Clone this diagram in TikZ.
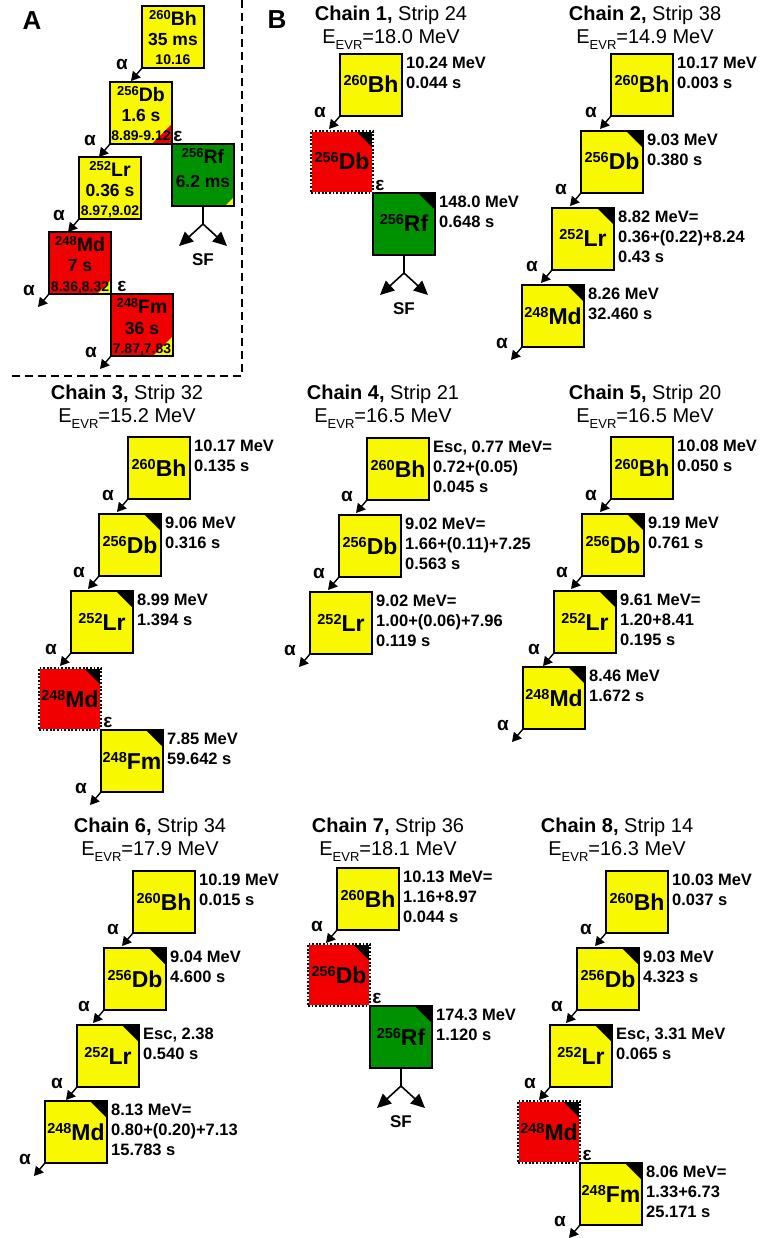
\documentclass[tikz,border=0pt]{standalone}
\usepackage{fontspec}
\setmainfont{Liberation Sans}
\usetikzlibrary{arrows.meta}

\definecolor{nucyellow}{RGB}{248,248,0}
\definecolor{nucred}{RGB}{240,0,0}
\definecolor{nucgreen}{RGB}{0,145,0}

% isotope symbol with mass number as a raised prefix
\newcommand\iso[2]{{\fontsize{14.5}{14}\selectfont\raisebox{7pt}{#1}}{\fontsize{23}{22}\selectfont #2}}
\newcommand\isoA[2]{{\fontsize{13}{13}\selectfont\raisebox{6pt}{#1}}{\fontsize{19.5}{19}\selectfont #2}}

\tikzset{
  nuc/.style={minimum width=62pt, minimum height=62pt, inner sep=0pt, outer sep=0pt,
              draw=black, line width=1.3pt},
  yel/.style={nuc, fill=nucyellow},
  grn/.style={nuc, fill=nucgreen},
  rd/.style={nuc, fill=nucred},
  dotbox/.style={nuc, fill=nucred, draw=white, line width=1.8pt,
                 postaction={draw=black, line width=1.8pt, dash pattern=on 1.8pt off 1.8pt}},
  corner/.style={path picture={\fill[black] (path picture bounding box.north east)
                 -- ++(-17,0) -- ++(17,17) -- cycle;}},
  cornerA/.style n args={2}{path picture={\fill[#1] (path picture bounding box.south east)
                 -- ++(-#2,0) -- ++(#2,-#2) -- cycle;}},
  side/.style={anchor=north west, inner sep=0pt, align=left,
               font=\bfseries\fontsize{16.5}{19.8}\selectfont},
  lab/.style={inner sep=0pt, font=\bfseries\fontsize{19}{19}\selectfont},
  ttl/.style={anchor=base, inner sep=0pt, font=\fontsize{20}{20}\selectfont},
  aarrow/.style={line width=1.4pt, -{Triangle[length=9pt,width=10pt]}},
  sfarrow/.style={line width=1.6pt, -{Triangle[length=14pt,width=13pt]}},
  sepline/.style={line width=1.5pt, dash pattern=on 8pt off 5pt},
}

% nucleus box of a single chain: name, style, top-left x, top-left y, mass, element
\newcommand\nucB[6]{%
  \node[#2] (#1) at (#3+31,#4+31) {};
  \node[anchor=base, inner sep=0pt, yshift=-8pt, font=\bfseries] (#1-l) at (#1.center) {\iso{#5}{#6}};
}
% nucleus box of the summary scheme: name, style, x, y, mass, element, half-life, energies
\newcommand\nucA[8]{%
  \node[#2] (#1) at (#3+31,#4+31) {};
  \node[anchor=base, inner sep=0pt, yshift=11.2pt, font=\bfseries] (#1-l) at (#1.center) {\isoA{#5}{#6}};
  \node[anchor=base, inner sep=0pt, yshift=-9pt, font=\bfseries\fontsize{17.5}{17}\selectfont] (#1-h) at (#1.center) {#7};
  \node[anchor=base, inner sep=0pt, yshift=-28pt, font=\bfseries\fontsize{14}{14}\selectfont] (#1-q) at (#1.center) {#8};
}
\newcommand\sidetext[2]{\node[side] (#1-t) at ([xshift=4pt,yshift=-3pt]#1.north east) {#2};}
\newcommand\adecay[1]{%
  \coordinate (#1-e) at ([xshift=-11pt,yshift=-13pt]#1.south west);
  \draw[aarrow] (#1.south west) -- (#1-e);
  \node[lab] (#1-al) at ([xshift=-20pt,yshift=4pt]#1.south west) {α};
}
\newcommand\edecay[2][7pt]{\node[lab] (#2-el) at ([xshift=#1,yshift=8pt]#2.south east) {ε};}
\newcommand\sfdecay[1]{%
  \coordinate (#1-s) at ([yshift=-18pt]#1.south);
  \coordinate (#1-s1) at ([xshift=-24pt,yshift=-40pt]#1.south);
  \coordinate (#1-s2) at ([xshift=24pt,yshift=-40pt]#1.south);
  \draw[line width=1.6pt] (#1.south) -- (#1-s);
  \draw[sfarrow] (#1-s) -- (#1-s1);
  \draw[sfarrow] (#1-s) -- (#1-s2);
  \node[inner sep=0pt, font=\bfseries\fontsize{17}{17}\selectfont] (#1-sf) at ([yshift=-54pt]#1.south) {SF};
}
\newcommand\chaintitle[6]{%
  \node[ttl] (#1-t1) at (#2,#3) {\textbf{Chain #4,} Strip #5};
  \node[ttl] (#1-t2) at (#2,#3+23) {E{\fontsize{13}{13}\selectfont\raisebox{-6pt}{EVR}}=#6 MeV};
}

\begin{document}
\begin{tikzpicture}[x=1pt, y=-1pt]
\useasboundingbox (0,0) rectangle (760,1238);

% panel separator
\coordinate (sepTop) at (242,0);
\coordinate (sepCorner) at (242,376);
\coordinate (sepLeft) at (10,376);
\draw[sepline] (sepTop) -- (sepCorner) -- (sepLeft);

\node[font=\bfseries\fontsize{26}{26}\selectfont, inner sep=0pt] (panelA) at (32,21) {A};
\node[font=\bfseries\fontsize{26}{26}\selectfont, inner sep=0pt] (panelB) at (277,20) {B};

% ---------- summary decay scheme ----------
\nucA{abh}{yel}{142}{6}{260}{Bh}{35 ms}{10.16}
\nucA{adb}{yel,cornerA={nucred}{20}}{110}{82}{256}{Db}{1.6 s}{8.89-9.12}
\nucA{alr}{yel}{79}{157}{252}{Lr}{0.36 s}{8.97,9.02}
\nucA{amd}{rd,cornerA={nucyellow}{14}}{49}{232}{248}{Md}{7 s}{8.36,8.32}
\nucA{afm}{rd,cornerA={nucyellow}{20}}{111}{294}{248}{Fm}{36 s}{7.87,7.83}
\node[grn,cornerA={nucyellow}{9}] (arf) at (172+31,144+31) {};
\node[anchor=base, inner sep=0pt, yshift=11.2pt, font=\bfseries] (arf-l) at (arf.center) {\isoA{256}{Rf}};
\node[anchor=base, inner sep=0pt, yshift=-13pt, font=\bfseries\fontsize{17.5}{17}\selectfont] (arf-h) at (arf.center) {6.2 ms};
\adecay{abh}
\adecay{adb}
\adecay{alr}
\adecay{amd}
\adecay{afm}
\edecay[6pt]{adb}
\edecay[11pt]{amd}
\sfdecay{arf}

% ---------- chain 1 ----------
\chaintitle{c1}{391}{21}{1}{24}{18.0}
\nucB{c1bh}{yel}{340}{54}{260}{Bh}
\nucB{c1db}{dotbox,corner}{311}{131}{256}{Db}
\nucB{c1rf}{grn,corner}{373}{193}{256}{Rf}
\sidetext{c1bh}{10.24 MeV\\0.044 s}
\sidetext{c1rf}{148.0 MeV\\0.648 s}
\adecay{c1bh}
\edecay{c1db}
\sfdecay{c1rf}

% ---------- chain 2 ----------
\chaintitle{c2}{645}{21}{2}{38}{14.9}
\nucB{c2bh}{yel}{611}{54}{260}{Bh}
\nucB{c2db}{yel,corner}{581}{131}{256}{Db}
\nucB{c2lr}{yel,corner}{552}{208}{252}{Lr}
\nucB{c2md}{yel,corner}{522}{285}{248}{Md}
\sidetext{c2bh}{10.17 MeV\\0.003 s}
\sidetext{c2db}{9.03 MeV\\0.380 s}
\sidetext{c2lr}{8.82 MeV=\\0.36+(0.22)+8.24\\0.43 s}
\sidetext{c2md}{8.26 MeV\\32.460 s}
\adecay{c2bh}
\adecay{c2db}
\adecay{c2lr}
\adecay{c2md}

% ---------- chain 3 ----------
\chaintitle{c3}{127}{399}{3}{32}{15.2}
\nucB{c3bh}{yel}{128}{437}{260}{Bh}
\nucB{c3db}{yel,corner}{99}{514}{256}{Db}
\nucB{c3lr}{yel,corner}{71}{591}{252}{Lr}
\nucB{c3md}{dotbox,corner}{39}{668}{248}{Md}
\nucB{c3fm}{yel,corner}{101}{730}{248}{Fm}
\sidetext{c3bh}{10.17 MeV\\0.135 s}
\sidetext{c3db}{9.06 MeV\\0.316 s}
\sidetext{c3lr}{8.99 MeV\\1.394 s}
\sidetext{c3fm}{7.85 MeV\\59.642 s}
\adecay{c3bh}
\adecay{c3db}
\adecay{c3lr}
\edecay{c3md}
\adecay{c3fm}

% ---------- chain 4 ----------
\chaintitle{c4}{383}{399}{4}{21}{16.5}
\nucB{c4bh}{yel}{367}{438}{260}{Bh}
\nucB{c4db}{yel}{339}{515}{256}{Db}
\nucB{c4lr}{yel}{310}{592}{252}{Lr}
\sidetext{c4bh}{Esc, 0.77 MeV=\\0.72+(0.05)\\0.045 s}
\sidetext{c4db}{9.02 MeV=\\1.66+(0.11)+7.25\\0.563 s}
\sidetext{c4lr}{9.02 MeV=\\1.00+(0.06)+7.96\\0.119 s}
\adecay{c4bh}
\adecay{c4db}
\adecay{c4lr}

% ---------- chain 5 ----------
\chaintitle{c5}{645}{399}{5}{20}{16.5}
\nucB{c5bh}{yel}{611}{437}{260}{Bh}
\nucB{c5db}{yel,corner}{582}{514}{256}{Db}
\nucB{c5lr}{yel,corner}{554}{591}{252}{Lr}
\nucB{c5md}{yel,corner}{523}{667}{248}{Md}
\sidetext{c5bh}{10.08 MeV\\0.050 s}
\sidetext{c5db}{9.19 MeV\\0.761 s}
\sidetext{c5lr}{9.61 MeV=\\1.20+8.41\\0.195 s}
\sidetext{c5md}{8.46 MeV\\1.672 s}
\adecay{c5bh}
\adecay{c5db}
\adecay{c5lr}
\adecay{c5md}

% ---------- chain 6 ----------
\chaintitle{c6}{150}{832}{6}{34}{17.9}
\nucB{c6bh}{yel}{133}{871}{260}{Bh}
\nucB{c6db}{yel,corner}{104}{948}{256}{Db}
\nucB{c6lr}{yel,corner}{77}{1025}{252}{Lr}
\nucB{c6md}{yel,corner}{45}{1101}{248}{Md}
\sidetext{c6bh}{10.19 MeV\\0.015 s}
\sidetext{c6db}{9.04 MeV\\4.600 s}
\sidetext{c6lr}{Esc, 2.38\\0.540 s}
\sidetext{c6md}{8.13 MeV=\\0.80+(0.20)+7.13\\15.783 s}
\adecay{c6bh}
\adecay{c6db}
\adecay{c6lr}
\adecay{c6md}

% ---------- chain 7 ----------
\chaintitle{c7}{388}{832}{7}{36}{18.1}
\nucB{c7bh}{yel}{337}{868}{260}{Bh}
\nucB{c7db}{dotbox,corner}{308}{944}{256}{Db}
\nucB{c7rf}{grn,corner}{370}{1006}{256}{Rf}
\sidetext{c7bh}{10.13 MeV=\\1.16+8.97\\0.044 s}
\sidetext{c7rf}{174.3 MeV\\1.120 s}
\adecay{c7bh}
\edecay{c7db}
\sfdecay{c7rf}

% ---------- chain 8 ----------
\chaintitle{c8}{617}{832}{8}{14}{16.3}
\nucB{c8bh}{yel}{606}{871}{260}{Bh}
\nucB{c8db}{yel,corner}{577}{948}{256}{Db}
\nucB{c8lr}{yel,corner}{550}{1025}{252}{Lr}
\nucB{c8md}{dotbox,corner}{518}{1101}{248}{Md}
\nucB{c8fm}{yel,corner}{580}{1163}{248}{Fm}
\sidetext{c8bh}{10.03 MeV\\0.037 s}
\sidetext{c8db}{9.03 MeV\\4.323 s}
\sidetext{c8lr}{Esc, 3.31 MeV\\0.065 s}
\sidetext{c8fm}{8.06 MeV=\\1.33+6.73\\25.171 s}
\adecay{c8bh}
\adecay{c8db}
\adecay{c8lr}
\edecay{c8md}
\adecay{c8fm}

\end{tikzpicture}
\end{document}
